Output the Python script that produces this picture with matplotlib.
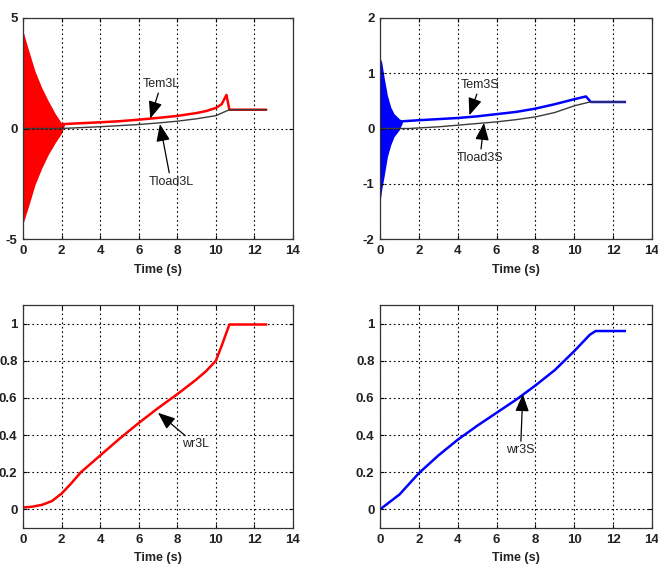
import matplotlib
matplotlib.use("Agg")
import matplotlib.pyplot as plt
import numpy as np

plt.rcParams['font.family'] = ['Liberation Sans', 'DejaVu Sans']

# ---- Electromagnetic torque, 3L machine ----
osc_t_L = [0.0, 0.02, 0.27, 0.62, 0.97, 1.31, 1.66, 2.0, 2.15]
osc_up_L = [4.35, 4.35, 3.6, 2.6, 1.85, 1.25, 0.69, 0.24, 0.2]
osc_lo_L = [-4.25, -4.25, -3.57, -2.55, -1.8, -1.18, -0.66, -0.21, 0.15]
tem_t_L = [2.1, 3, 4, 5, 6, 7, 8, 9, 9.5, 10, 10.3, 10.55, 10.7, 12.6]
tem_L = [0.2, 0.24, 0.28, 0.33, 0.4, 0.48, 0.57, 0.7, 0.79, 0.93, 1.1, 1.52, 0.85, 0.85]
load_t_L = [0, 2, 3, 4, 5, 6, 7, 8, 9, 10, 10.7, 12.6]
load_L = [0, 0, 0.04, 0.08, 0.13, 0.18, 0.25, 0.33, 0.44, 0.58, 0.85, 0.85]

# ---- Electromagnetic torque, 3S machine ----
osc_t_S = [0.0, 0.03, 0.09, 0.21, 0.38, 0.55, 0.72, 0.98, 1.15]
osc_up_S = [1.56, 1.25, 1.2, 0.93, 0.6, 0.39, 0.27, 0.18, 0.14]
osc_lo_S = [-1.26, -1.26, -1.1, -0.87, -0.51, -0.3, -0.15, -0.03, 0.1]
tem_t_S = [1.15, 2, 3, 4, 5, 6, 7, 8, 9, 10, 10.6, 10.85, 12.6]
tem_S = [0.13, 0.15, 0.17, 0.19, 0.22, 0.26, 0.3, 0.36, 0.44, 0.53, 0.58, 0.48, 0.48]
load_t_S = [0, 1.5, 2, 3, 4, 5, 6, 7, 8, 9, 10, 10.8, 12.6]
load_S = [0, 0, 0.01, 0.03, 0.06, 0.09, 0.12, 0.16, 0.21, 0.29, 0.41, 0.48, 0.48]

# ---- Rotor speed ----
wr_t_L = [0, 0.5, 1, 1.5, 2, 2.5, 3, 4, 5, 6, 7, 8, 9, 9.5, 10, 10.3, 10.7, 12.6]
wr_L = [0.01, 0.015, 0.025, 0.045, 0.085, 0.14, 0.2, 0.29, 0.38, 0.465, 0.545,
        0.62, 0.7, 0.745, 0.8, 0.88, 0.995, 0.995]
wr_t_S = [0, 0.5, 1, 2, 3, 4, 5, 6, 7, 8, 9, 10, 10.8, 11.1, 12.6]
wr_S = [0.0, 0.04, 0.08, 0.195, 0.29, 0.375, 0.45, 0.52, 0.59, 0.667, 0.75, 0.852,
        0.94, 0.96, 0.96]

x_ticks = [0, 2, 4, 6, 8, 10, 12, 14]

fig = plt.figure(figsize=(6.58, 5.64), dpi=100)
W, H = 658, 564


def make_axes(x0, y0, x1, y1):
    return fig.add_axes([x0 / W, 1 - y1 / H, (x1 - x0) / W, (y1 - y0) / H])


def style(ax, ylim, yticks, ylabels):
    ax.set_xlim(0, 14)
    ax.set_ylim(*ylim)
    ax.set_xticks(x_ticks)
    ax.set_yticks(yticks)
    ax.set_yticklabels(ylabels)
    ax.grid(True, color='black', linestyle=(0, (1.5, 2.5)), linewidth=0.8)
    ax.tick_params(direction='in', top=True, right=True, length=3,
                   labelsize=9.5, pad=4)
    for lab in ax.get_xticklabels() + ax.get_yticklabels():
        lab.set_fontweight('bold')
        lab.set_color('#222222')
    for s in ax.spines.values():
        s.set_linewidth(0.9)
        s.set_color('#333333')
    ax.set_xlabel('Time (s)', fontsize=9, fontweight='bold', labelpad=5,
                  color='#222222')


arrow = dict(arrowstyle='-|>,head_length=0.75,head_width=0.3', color='black',
             lw=0.9, mutation_scale=14, shrinkA=0, shrinkB=0)
ann_kw = dict(fontsize=9, color='#222222', arrowprops=arrow)

# Top left
ax1 = make_axes(23, 18, 293, 239)
ax1.fill_between(osc_t_L, osc_lo_L, osc_up_L, color='red', lw=0)
ax1.plot(tem_t_L, tem_L, color='red', lw=1.8)
ax1.plot(load_t_L, load_L, color='#3a3a3a', lw=1.0)
style(ax1, (-5, 5), [-5, 0, 5], ['-5', '0', '5'])
ax1.annotate('Tem3L', xy=(6.6, 0.45), xytext=(6.2, 2.0), va='center', **ann_kw)
ax1.annotate('Tload3L', xy=(7.1, 0.2), xytext=(6.5, -2.4), va='center', **ann_kw)

# Top right
ax2 = make_axes(380, 18, 652, 239)
ax2.fill_between(osc_t_S, osc_lo_S, osc_up_S, color='blue', lw=0)
ax2.plot(tem_t_S, tem_S, color='blue', lw=1.8)
ax2.plot(load_t_S, load_S, color='#3a3a3a', lw=1.0)
style(ax2, (-2, 2), [-2, -1, 0, 1, 2], ['-2', '-1', '0', '1', '2'])
ax2.annotate('Tem3S', xy=(4.6, 0.24), xytext=(4.15, 0.78), va='center', **ann_kw)
ax2.annotate('Tload3S', xy=(5.35, 0.1), xytext=(3.95, -0.53), va='center', **ann_kw)

# Bottom left
ax3 = make_axes(23, 305, 293, 528)
ax3.plot(wr_t_L, wr_L, color='red', lw=1.8)
style(ax3, (-0.1, 1.1), [0, 0.2, 0.4, 0.6, 0.8, 1.0],
      ['0', '0.2', '0.4', '0.6', '0.8', '1'])
ax3.annotate('wr3L', xy=(7.0, 0.52), xytext=(8.25, 0.35), va='center', **ann_kw)

# Bottom right
ax4 = make_axes(380, 305, 652, 528)
ax4.plot(wr_t_S, wr_S, color='blue', lw=1.8)
style(ax4, (-0.1, 1.1), [0, 0.2, 0.4, 0.6, 0.8, 1.0],
      ['0', '0.2', '0.4', '0.6', '0.8', '1'])
ax4.annotate('wr3S', xy=(7.35, 0.62), xytext=(6.5, 0.32), va='center', **ann_kw)

fig.savefig('out.png', dpi=100)
